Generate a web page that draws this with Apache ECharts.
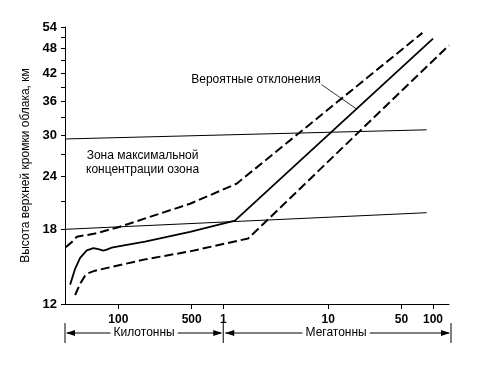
<!DOCTYPE html>
<html>
<head>
<meta charset="utf-8">
<script src="https://cdn.jsdelivr.net/npm/echarts@6/dist/echarts.min.js"></script>
<style>
html,body{margin:0;padding:0;background:#fff;}
#c{width:485px;height:369px;}
</style>
</head>
<body>
<div id="c"></div>
<script>
// ---- Data (yield in kilotons, cloud-top height in km) ----
const xTickValues = [100, 500, 1000, 10000, 50000, 100000];
const yLabelValues = [12, 18, 24, 30, 36, 42, 48, 54];
const yTickValues = [12, 18, 21, 24, 27, 30, 33, 36, 39, 42, 45, 48, 51, 54];

const meanYield  = [34.7, 38.7, 43.2, 50, 57.8, 64.5, 72, 77.5, 86.5, 100, 179.6, 482, 1292, 100000];
const meanHeight = [13.33, 14.53, 15.42, 16.06, 16.25, 16.17, 16.03, 16.12, 16.29, 16.4, 16.84, 17.75, 18.87, 50.7];

const upperYield  = [31.5, 37.3, 40.2, 60, 100, 482, 1342, 79200];
const upperHeight = [16.34, 16.92, 17.29, 17.59, 18.21, 20.68, 23.06, 52.3];

const lowerYield  = [38.7, 43.2, 48.2, 51.8, 60, 179.6, 482, 1730, 142000];
const lowerHeight = [12.6, 13.4, 14.0, 14.19, 14.38, 15.29, 15.97, 17.13, 48.9];

const ozoneTopYield = [31, 87100];
const ozoneTopHeight = [29.4, 30.9];
const ozoneBottomYield = [31, 87100];
const ozoneBottomHeight = [18.0, 19.7];

const leaderYield = [8650, 18640];
const leaderHeight = [39.5, 34.6];

const xMin = 31, xMax = 142000, yMin = 12, yMax = 54;
const kilotonMegatonBoundary = 1000;

const deviationLabel = 'Вероятные отклонения';
const zoneLabel = 'Зона максимальной\nконцентрации озона';
const kiloLabel = 'Килотонны';
const megaLabel = 'Мегатонны';
const yTitle = 'Высота верхней кромки облака, км';

// annotation anchors in data units
const deviationAnchor = [8500, 40.5];
const zoneAnchor = [170, 25.85];

function pairs(xs, ys){ return xs.map((x,i)=>[x, ys[i]]); }

const FONT = '"Liberation Sans", Arial, sans-serif';

const chart = echarts.init(document.getElementById('c'));
const option = {
  animation: false,
  backgroundColor: '#fff',
  grid: { left: 65, right: 36, top: 27, bottom: 65, containLabel: false },
  xAxis: {
    type: 'log', logBase: 10, min: xMin, max: xMax,
    axisLine: { show: true, lineStyle: { color: '#000', width: 1 } },
    axisTick: { show: true, length: 5, customValues: xTickValues, lineStyle: { color: '#000' } },
    axisLabel: {
      customValues: xTickValues, margin: 10, color: '#000',
      fontFamily: FONT, fontSize: 12, fontWeight: 'bold',
      formatter: v => (v < 1000 ? String(v) : String(Math.round(v / 1000)))
    },
    splitLine: { show: false }, minorTick: { show: false }
  },
  yAxis: {
    type: 'log', logBase: 10, min: yMin, max: yMax,
    name: yTitle, nameLocation: 'middle', nameRotate: 90, nameGap: 31,
    nameTextStyle: { fontFamily: FONT, fontSize: 12, color: '#000' },
    axisLine: { show: true, lineStyle: { color: '#000', width: 1 } },
    axisTick: { show: true, length: 4, customValues: yTickValues, lineStyle: { color: '#000' } },
    axisLabel: {
      customValues: yLabelValues, margin: 8, color: '#000',
      fontFamily: FONT, fontSize: 13, fontWeight: 'bold'
    },
    splitLine: { show: false }, minorTick: { show: false }
  },
  series: [
    { name: 'ozoneTop', type: 'line', data: pairs(ozoneTopYield, ozoneTopHeight), showSymbol: false,
      lineStyle: { color: '#000', width: 1 } },
    { name: 'ozoneBottom', type: 'line', data: pairs(ozoneBottomYield, ozoneBottomHeight), showSymbol: false,
      lineStyle: { color: '#000', width: 1 } },
    { name: 'mean', type: 'line', data: pairs(meanYield, meanHeight), showSymbol: false,
      lineStyle: { color: '#000', width: 1.8 } },
    { name: 'upper', type: 'line', data: pairs(upperYield, upperHeight), showSymbol: false,
      lineStyle: { color: '#000', width: 2, type: [9, 4] } },
    { name: 'lower', type: 'line', data: pairs(lowerYield, lowerHeight), showSymbol: false,
      lineStyle: { color: '#000', width: 2, type: [9, 4] } },
    { name: 'leader', type: 'line', data: pairs(leaderYield, leaderHeight), showSymbol: false,
      lineStyle: { color: '#000', width: 0.8 } }
  ]
};
chart.setOption(option);

function px(x, y){ return chart.convertToPixel({ gridIndex: 0 }, [x, y]); }

const dev = px(deviationAnchor[0], deviationAnchor[1]);
const zone = px(zoneAnchor[0], zoneAnchor[1]);
const pL = px(xMin, yMin), pM = px(kilotonMegatonBoundary, yMin), pR = px(xMax, yMin);
const axisY = pL[1];
const ay = axisY + 29, barTop = axisY + 19, barBot = axisY + 39;

function arrow(tipX, dir){ // dir -1 points left, +1 points right
  const b = tipX - dir * 9;
  return { type: 'polygon', shape: { points: [[tipX, ay], [b, ay - 3], [b, ay + 3]] }, style: { fill: '#000' } };
}
function seg(x1, y1, x2, y2){
  return { type: 'line', shape: { x1, y1, x2, y2 }, style: { stroke: '#000', lineWidth: 1 } };
}
const textStyle = { fontFamily: FONT, fontSize: 12, fill: '#000' };

chart.setOption({
  graphic: [
    { type: 'text', x: dev[0], y: dev[1],
      style: Object.assign({ text: deviationLabel, align: 'right', verticalAlign: 'middle' }, textStyle) },
    { type: 'text', x: zone[0], y: zone[1],
      style: Object.assign({ text: zoneLabel, align: 'center', verticalAlign: 'middle', lineHeight: 14 }, textStyle) },
    seg(pL[0], barTop, pL[0], barBot),
    seg(pM[0], barTop, pM[0], barBot),
    seg(pR[0] + 2, barTop, pR[0] + 2, barBot),
    seg(pL[0] + 2, ay, pM[0] - 2, ay),
    seg(pM[0] + 2, ay, pR[0], ay),
    arrow(pL[0] + 1, -1), arrow(pM[0] - 1, 1),
    arrow(pM[0] + 2, -1), arrow(pR[0] + 1, 1),
    { type: 'text', x: (pL[0] + pM[0]) / 2, y: ay,
      style: Object.assign({ text: kiloLabel, align: 'center', verticalAlign: 'middle',
        backgroundColor: '#fff', padding: [0, 3] }, textStyle) },
    { type: 'text', x: (pM[0] + pR[0]) / 2, y: ay,
      style: Object.assign({ text: megaLabel, align: 'center', verticalAlign: 'middle',
        backgroundColor: '#fff', padding: [0, 3] }, textStyle) }
  ]
});
</script>
</body>
</html>
